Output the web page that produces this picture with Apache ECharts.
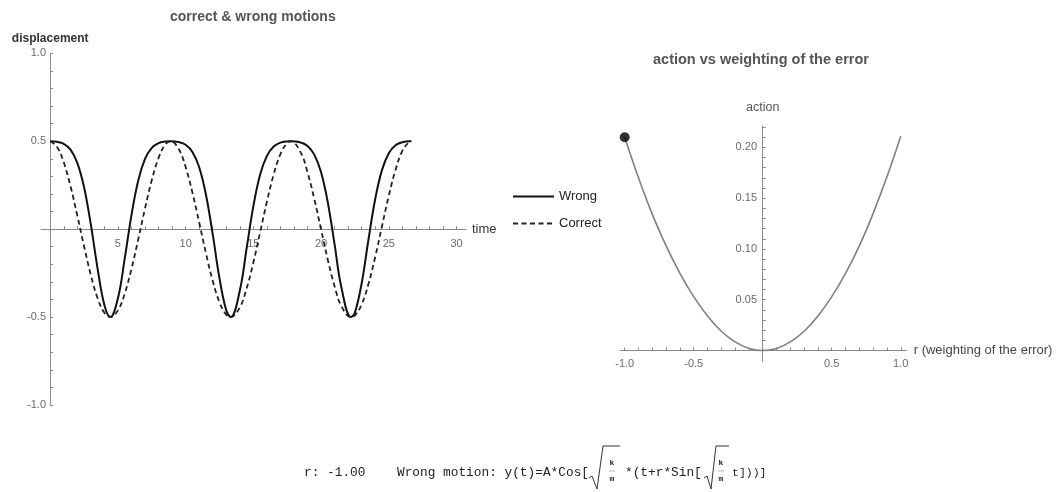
<!DOCTYPE html>
<html>
<head>
<meta charset="utf-8">
<script src="https://cdn.jsdelivr.net/npm/echarts@6/dist/echarts.min.js"></script>
<style>
  html, body { margin: 0; padding: 0; background: #fff; }
  #chart { width: 1063px; height: 492px; }
</style>
</head>
<body>
<div id="chart"></div>
<script>
// Oscillator: correct and "wrong" displacement over time
const time = [0, 0.5, 1, 1.5, 2, 2.5, 3, 3.5, 4, 4.44, 5, 5.5, 6, 6.5, 7, 7.5, 8, 8.5, 8.89,
  9.5, 10, 10.5, 11, 11.5, 12, 12.5, 13, 13.33, 14, 14.5, 15, 15.5, 16, 16.5, 17, 17.5, 17.77,
  18.5, 19, 19.5, 20, 20.5, 21, 21.5, 22.21, 22.5, 23, 23.5, 24, 24.5, 25, 25.5, 26, 26.5, 26.66];
const wrongMotion = [0.5, 0.497, 0.485, 0.452, 0.377, 0.238, 0.026, -0.225, -0.431, -0.5,
  -0.393, -0.168, 0.080, 0.277, 0.399, 0.462, 0.489, 0.498, 0.5, 0.495,
  0.480, 0.439, 0.352, 0.196, -0.030, -0.280, -0.462, -0.5, -0.349, -0.110,
  0.131, 0.311, 0.417, 0.470, 0.492, 0.499, 0.5, 0.493, 0.473, 0.424,
  0.323, 0.150, -0.088, -0.331, -0.5, -0.474, -0.306, -0.059, 0.173, 0.337,
  0.432, 0.477, 0.494, 0.500, 0.500];
const correctMotion = [0.5, 0.469, 0.380, 0.244, 0.078, -0.097, -0.261, -0.393, -0.476, -0.5,
  -0.462, -0.367, -0.226, -0.058, 0.118, 0.279, 0.405, 0.482, 0.5, 0.454,
  0.353, 0.208, 0.038, -0.137, -0.295, -0.416, -0.487, -0.5, -0.445, -0.338,
  -0.190, -0.018, 0.156, 0.311, 0.427, 0.491, 0.5, 0.435, 0.323, 0.171,
  -0.002, -0.175, -0.326, -0.438, -0.5, -0.491, -0.427, -0.311, -0.157, 0.018,
  0.190, 0.338, 0.445, 0.496, 0.500];

// Action as a function of the error weighting r
const rValues = [-1.0, -0.9, -0.8, -0.7, -0.6, -0.5, -0.4, -0.3, -0.2, -0.1, 0,
  0.1, 0.2, 0.3, 0.4, 0.5, 0.6, 0.7, 0.8, 0.9, 1.0];
const actionValues = [0.210, 0.170, 0.134, 0.103, 0.076, 0.053, 0.034, 0.019, 0.0085, 0.0021, 0,
  0.0021, 0.0085, 0.019, 0.034, 0.053, 0.076, 0.103, 0.135, 0.171, 0.211];
const rCurrent = -1.00;
const actionCurrent = 0.210;

// Tick labels and tick marks
const timeTicks = [5, 10, 15, 20, 25, 30];
const timeTickMarks = [1,2,3,4,5,6,7,8,9,10,11,12,13,14,15,16,17,18,19,20,21,22,23,24,25,26,27,28,29,30];
const dispTicks = [-1.0, -0.5, 0.5, 1.0];
const dispTickMarks = [-1.0,-0.9,-0.8,-0.7,-0.6,-0.5,-0.4,-0.3,-0.2,-0.1,0.1,0.2,0.3,0.4,0.5,0.6,0.7,0.8,0.9,1.0];
const rTicks = [-1.0, -0.5, 0.5, 1.0];
const rTickMarks = [-1.0,-0.9,-0.8,-0.7,-0.6,-0.5,-0.4,-0.3,-0.2,-0.1,0.1,0.2,0.3,0.4,0.5,0.6,0.7,0.8,0.9,1.0];
const actionTicks = [0.05, 0.10, 0.15, 0.20];
const actionTickMarks = [0.01,0.02,0.03,0.04,0.05,0.06,0.07,0.08,0.09,0.10,0.11,0.12,0.13,0.14,0.15,
  0.16,0.17,0.18,0.19,0.20,0.21,0.22];

const SANS = '"Liberation Sans", Arial, sans-serif';
const MONO = '"Liberation Mono", "Courier New", monospace';
const axisGray = '#8a8a8a';
const labelGray = '#6a6a6a';

// Axes cross at zero; labels are pulled back from the grid edge onto the crossing lines
function zeroAxis(tickMarks, tickLabels, digits, labelMargin) {
  return {
    axisLine: { onZero: true, lineStyle: { color: axisGray, width: 1 } },
    axisTick: { show: true, inside: true, length: 3, customValues: tickMarks,
      lineStyle: { color: axisGray, width: 1 } },
    axisLabel: { customValues: tickLabels, color: labelGray, fontSize: 11, fontFamily: SANS,
      margin: labelMargin, formatter: v => Number(v).toFixed(digits) },
    splitLine: { show: false }
  };
}

const chart = echarts.init(document.getElementById('chart'), null, { renderer: 'canvas' });

// Bottom line: current r and the formula of the wrong motion
const fx = 12.8;
const formula = [
  { type: 'text', x: 304, y: 473, style: { text: 'r: ' + rCurrent.toFixed(2), font: fx + 'px ' + MONO, fill: '#222', verticalAlign: 'middle' } },
  { type: 'text', x: 397, y: 473, style: { text: 'Wrong motion: y(t)=A*Cos[', font: fx + 'px ' + MONO, fill: '#222', verticalAlign: 'middle' } },
  { type: 'polyline', shape: { points: [[589, 478], [592, 476], [597, 489], [603, 446], [620, 446]] }, style: { stroke: '#333', lineWidth: 1, fill: null } },
  { type: 'text', x: 612, y: 463, style: { text: 'k', font: 'bold 8px ' + MONO, fill: '#222', align: 'center', verticalAlign: 'middle' } },
  { type: 'line', shape: { x1: 609, y1: 471, x2: 615, y2: 471 }, style: { stroke: '#888', lineWidth: 0.6 } },
  { type: 'text', x: 612, y: 479, style: { text: 'm', font: 'bold 8px ' + MONO, fill: '#222', align: 'center', verticalAlign: 'middle' } },
  { type: 'text', x: 625, y: 473, style: { text: '*(t+r*Sin[', font: fx + 'px ' + MONO, fill: '#222', verticalAlign: 'middle' } },
  { type: 'polyline', shape: { points: [[704, 478], [707, 476], [711, 489], [716, 446], [729, 446]] }, style: { stroke: '#333', lineWidth: 1, fill: null } },
  { type: 'text', x: 721, y: 463, style: { text: 'k', font: 'bold 8px ' + MONO, fill: '#222', align: 'center', verticalAlign: 'middle' } },
  { type: 'line', shape: { x1: 718, y1: 471, x2: 724, y2: 471 }, style: { stroke: '#888', lineWidth: 0.6 } },
  { type: 'text', x: 721, y: 479, style: { text: 'm', font: 'bold 8px ' + MONO, fill: '#222', align: 'center', verticalAlign: 'middle' } },
  { type: 'text', x: 732, y: 473, style: { text: 't]))]', font: '11.5px ' + MONO, fill: '#222', verticalAlign: 'middle' } }
];

const option = {
  animation: false,
  backgroundColor: '#ffffff',
  title: [
    { text: 'correct & wrong motions', left: 165, top: 5,
      textStyle: { fontFamily: SANS, fontSize: 14, fontWeight: 'bold', color: '#555' } },
    { text: 'action vs weighting of the error', left: 648, top: 47,
      textStyle: { fontFamily: SANS, fontSize: 14.5, fontWeight: 'bold', color: '#555' } }
  ],
  legend: {
    data: ['Wrong', 'Correct'],
    orient: 'vertical',
    left: 507, top: 185,
    itemWidth: 41, itemHeight: 14, itemGap: 14,
    itemStyle: { opacity: 0 },
    textStyle: { fontFamily: SANS, fontSize: 13, color: '#222' },
    selectedMode: false
  },
  grid: [
    { left: 41, top: 53.3, width: 425, height: 351.7 },
    { left: 620, top: 126, width: 286.7, height: 235.7 }
  ],
  xAxis: [
    Object.assign({ type: 'value', gridIndex: 0, min: -0.68, max: 30.7,
      name: 'time', nameLocation: 'end', nameGap: 6,
      nameTextStyle: { fontFamily: SANS, fontSize: 13, color: '#333' } },
      zeroAxis(timeTickMarks, timeTicks, 0, -167)),
    Object.assign({ type: 'value', gridIndex: 1, min: -1.034, max: 1.043,
      name: 'r (weighting of the error)', nameLocation: 'end', nameGap: 7,
      nameTextStyle: { fontFamily: SANS, fontSize: 13, color: '#444' } },
      zeroAxis(rTickMarks, rTicks, 1, -3))
  ],
  yAxis: [
    Object.assign({ type: 'value', gridIndex: 0, min: -1, max: 1,
      name: 'displacement', nameLocation: 'end', nameGap: 9,
      nameTextStyle: { fontFamily: SANS, fontSize: 12, fontWeight: 'bold', color: '#333' } },
      zeroAxis(dispTickMarks, dispTicks, 1, -5)),
    Object.assign({ type: 'value', gridIndex: 1, min: -0.011, max: 0.221,
      name: 'action', nameLocation: 'end', nameGap: 12,
      nameTextStyle: { fontFamily: SANS, fontSize: 12.5, color: '#555' } },
      zeroAxis(actionTickMarks, actionTicks, 2, -137))
  ],
  series: [
    { name: 'Wrong', type: 'line', xAxisIndex: 0, yAxisIndex: 0,
      data: time.map((t, i) => [t, wrongMotion[i]]),
      symbol: 'none', showSymbol: false, smooth: 0.4,
      lineStyle: { color: '#111', width: 2 }, itemStyle: { color: '#111' } },
    { name: 'Correct', type: 'line', xAxisIndex: 0, yAxisIndex: 0,
      data: time.map((t, i) => [t, correctMotion[i]]),
      symbol: 'none', showSymbol: false, smooth: 0.4,
      lineStyle: { color: '#222', width: 1.8, type: [5, 3.5] }, itemStyle: { color: '#222' } },
    { name: 'action', type: 'line', xAxisIndex: 1, yAxisIndex: 1,
      data: rValues.map((r, i) => [r, actionValues[i]]),
      symbol: 'none', showSymbol: false, smooth: 0.4,
      lineStyle: { color: '#808080', width: 1.6 } },
    { name: 'current r', type: 'scatter', xAxisIndex: 1, yAxisIndex: 1,
      data: [[rCurrent, actionCurrent]], symbol: 'circle', symbolSize: 10,
      itemStyle: { color: '#000' }, z: 5 }
  ],
  graphic: formula
};

chart.setOption(option);
</script>
</body>
</html>
